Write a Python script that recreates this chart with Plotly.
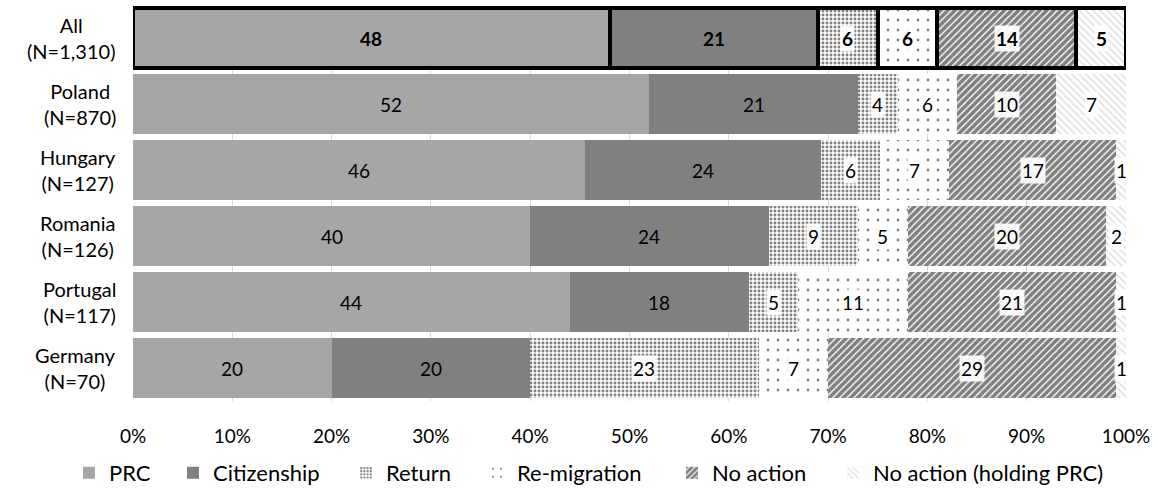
import plotly.graph_objects as go

# Respondent groups (top to bottom) and their intended action shares (%)
groups = ["All", "Poland", "Hungary", "Romania", "Portugal", "Germany"]
sample_sizes = ["N=1,310", "N=870", "N=127", "N=126", "N=117", "N=70"]

prc = [48, 52, 46, 40, 44, 20]
citizenship = [21, 21, 24, 24, 18, 20]
return_home = [6, 4, 6, 9, 5, 23]
re_migration = [6, 6, 7, 5, 11, 7]
no_action = [14, 10, 17, 20, 21, 29]
no_action_prc = [5, 7, 1, 2, 1, 1]

x_ticks = [0, 10, 20, 30, 40, 50, 60, 70, 80, 90, 100]
x_tick_labels = [f"{t}%" for t in x_ticks]

def dots(size, solidity):
    return dict(color="white", pattern=dict(shape=".", size=size, solidity=solidity,
                                            fgcolor="black", bgcolor="white", fillmode="overlay"))

series = [
    ("PRC", prc, dict(color="#a6a6a6"), False),
    ("Citizenship", citizenship, dict(color="#808080"), False),
    ("Return", return_home, dots(4, 0.42), True),
    ("Re-migration", re_migration, dots(10, 0.06), True),
    ("No action", no_action,
     dict(color="white", pattern=dict(shape="/", size=5, solidity=0.72,
                                      fgcolor="black", bgcolor="white", fillmode="overlay")), True),
    ("No action (holding PRC)", no_action_prc,
     dict(color="white", pattern=dict(shape="\\", size=5, solidity=0.3,
                                      fgcolor="#c0c0c0", bgcolor="white", fillmode="overlay")), True),
]

FONT = "Lato"
W, H = 1159, 488
ML, MR, MT, MB = 133, 33, 5, 84
PW = W - ML - MR

# x-position (px) where each legend entry's text begins
legend_text_px = [109, 213, 386, 517, 712, 873]

fig = go.Figure()
for k, (name, vals, marker, _) in enumerate(series):
    legend_id = "legend" if k == 0 else f"legend{k + 1}"
    # "All" row drawn with a heavy black outline
    m_all = dict(marker)
    m_all["line"] = dict(color="black", width=4)
    fig.add_trace(go.Bar(
        name=name, y=groups[:1], x=vals[:1], orientation="h", marker=m_all,
        legendgroup=name, showlegend=False, hoverinfo="x+name",
    ))
    m_rest = dict(marker)
    m_rest["line"] = dict(width=0)
    fig.add_trace(go.Bar(
        name=name, y=groups[1:], x=vals[1:], orientation="h", marker=m_rest,
        legendgroup=name, legend=legend_id, hoverinfo="x+name",
    ))

# Value labels at the centre of each (row-normalised) segment
n = len(groups)
row_totals = [sum(s[1][i] for s in series) for i in range(n)]
annotations = []
for i, g in enumerate(groups):
    cum = 0.0
    for name, vals, _, boxed in series:
        v = vals[i]
        share = v / row_totals[i] * 100
        mid = cum + share / 2
        cum += share
        label = f"<b>{v}</b>" if i == 0 else str(v)
        annotations.append(dict(
            x=mid, y=g, xref="x", yref="y", text=label, showarrow=False,
            font=dict(family=FONT, size=19, color="black"),
            bgcolor="rgba(255,255,255,0.92)" if boxed else None,
            borderpad=1,
        ))

# Category labels, two centred lines each
for g, ss in zip(groups, sample_sizes):
    annotations.append(dict(
        x=-15 / PW, y=g, xref="paper", yref="y", xanchor="right", align="center",
        text=f"{g}<br>({ss})", showarrow=False,
        font=dict(family=FONT, size=20, color="black"),
    ))

layout_legends = {}
for k, px in enumerate(legend_text_px):
    key = "legend" if k == 0 else f"legend{k + 1}"
    layout_legends[key] = dict(
        orientation="h", xref="container", yref="container",
        x=(px - 40) / W, xanchor="left", y=1 - 473 / H, yanchor="middle",
        font=dict(family=FONT, size=22, color="black"),
        itemwidth=30, bgcolor="rgba(0,0,0,0)", borderwidth=0,
    )

fig.update_layout(
    barmode="stack",
    barnorm="percent",
    bargap=0.1,
    width=W, height=H,
    margin=dict(l=ML, r=MR, t=MT, b=MB),
    paper_bgcolor="white", plot_bgcolor="white",
    font=dict(family=FONT, size=19, color="black"),
    annotations=annotations,
    showlegend=True,
    **layout_legends,
)
fig.update_xaxes(range=[0, 100], tickvals=x_ticks, ticktext=x_tick_labels,
                 showgrid=True, gridcolor="#d9d9d9", gridwidth=1,
                 zeroline=False, showline=False, ticklabelstandoff=22,
                 tickfont=dict(family=FONT, size=19))
fig.update_yaxes(autorange="reversed", showgrid=False, showline=False,
                 ticks="", showticklabels=False)

fig.write_html("out.html")
